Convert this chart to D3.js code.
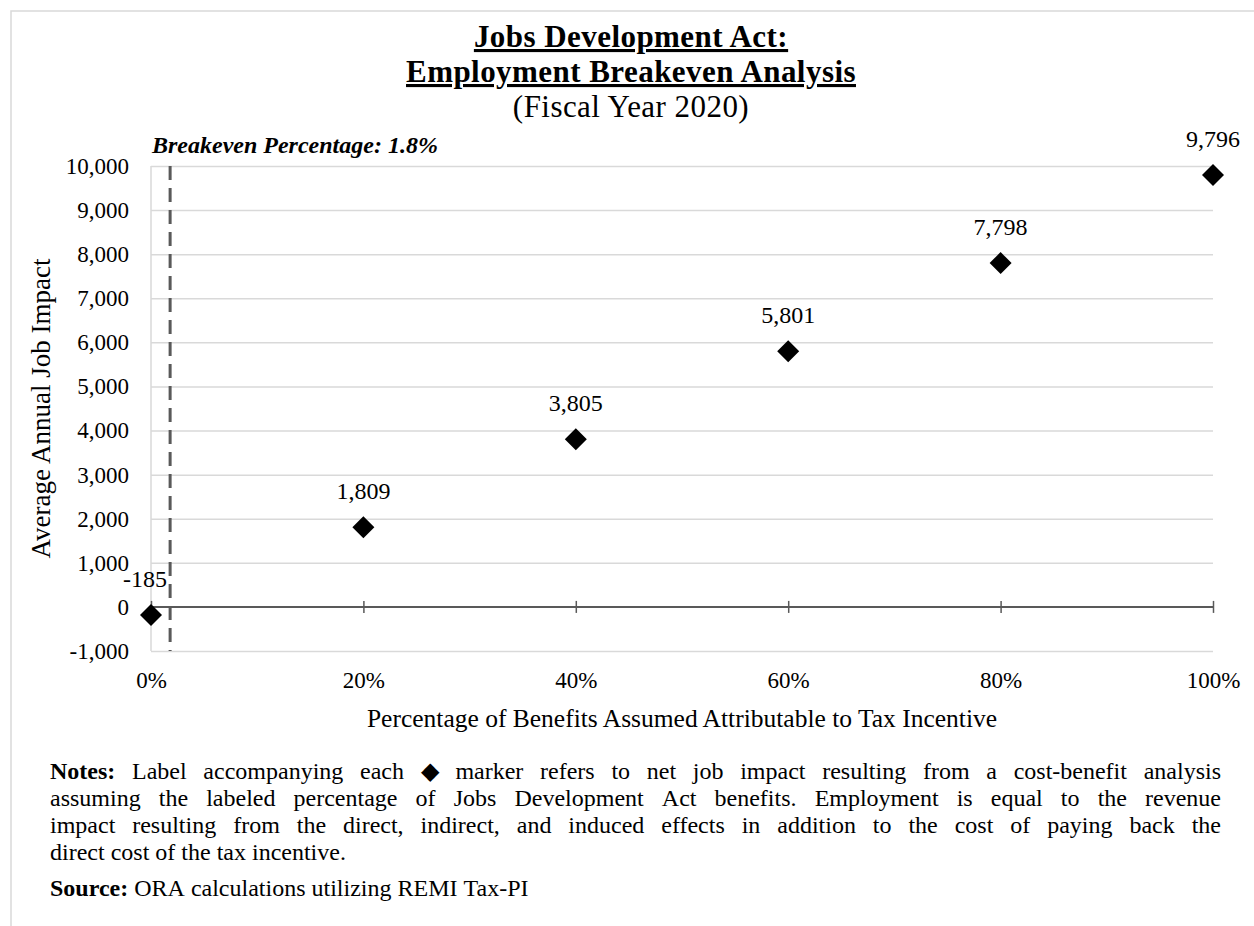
<!DOCTYPE html>
<html>
<head>
<meta charset="utf-8">
<script src="https://cdn.jsdelivr.net/npm/d3@7"></script>
<style>
  html, body { margin: 0; padding: 0; background: #ffffff; }
  svg { display: block; }
  text { font-family: "Liberation Serif", "Times New Roman", Times, serif; fill: #000; }
</style>
</head>
<body>
<svg id="chart" width="1254" height="926"></svg>
<script>
// ---- Data -------------------------------------------------------------
const benefitShares = [0, 0.2, 0.4, 0.6, 0.8, 1.0];
const jobImpact = [-185, 1809, 3805, 5801, 7798, 9796];
const breakevenShare = 0.018;

const yTickValues = [-1000, 0, 1000, 2000, 3000, 4000, 5000, 6000, 7000, 8000, 9000, 10000];
const xTickValues = [0, 0.2, 0.4, 0.6, 0.8, 1.0];

// ---- Text -------------------------------------------------------------
const titleLines = ["Jobs Development Act:", "Employment Breakeven Analysis"];
const subtitle = "(Fiscal Year 2020)";
const breakevenLabel = "Breakeven Percentage: 1.8%";
const yAxisTitle = "Average Annual Job Impact";
const xAxisTitle = "Percentage of Benefits Assumed Attributable to Tax Incentive";
const notesLead = "Notes:";
const notesLines = [
  "Label accompanying each \u25C6 marker refers to net job impact resulting from a cost-benefit analysis",
  "assuming the labeled percentage of Jobs Development Act benefits. Employment is equal to the revenue",
  "impact resulting from the direct, indirect, and induced effects in addition to the cost of paying back the",
  "direct cost of the tax incentive."
];
const sourceLead = "Source:";
const sourceBody = "ORA calculations utilizing REMI Tax-PI";

// ---- Layout -----------------------------------------------------------
const W = 1254, H = 926;
const plot = { left: 151, right: 1213, top: 166, bottom: 651 };
const gridColor = "#d9d9d9";
const axisColor = "#595959";

const svg = d3.select("#chart");
svg.append("rect").attr("width", W).attr("height", H).attr("fill", "#fff");

// chart frame (left and top edges)
svg.append("path")
  .attr("d", `M11,${H} V11 H${W}`)
  .attr("fill", "none")
  .attr("stroke", gridColor)
  .attr("stroke-width", 1.5);

const x = d3.scaleLinear().domain([0, 1]).range([plot.left, plot.right]);
const y = d3.scaleLinear().domain([-1000, 10000]).range([plot.bottom, plot.top]);

const fmt = d3.formatLocale({ decimal: ".", thousands: ",", grouping: [3], currency: ["$", ""], minus: "-" });
const numFmt = fmt.format(",");
const pctFmt = fmt.format(".0%");

// horizontal gridlines
const grid = svg.append("g")
  .attr("transform", `translate(${plot.left},0)`)
  .call(d3.axisLeft(y)
    .tickValues(yTickValues.filter(v => v !== 0))
    .tickSize(-(plot.right - plot.left))
    .tickFormat(""));
grid.select(".domain").remove();
grid.selectAll(".tick line").attr("stroke", gridColor).attr("stroke-width", 1.5);

// vertical axis line
svg.append("line")
  .attr("x1", plot.left).attr("x2", plot.left)
  .attr("y1", plot.top).attr("y2", plot.bottom)
  .attr("stroke", gridColor).attr("stroke-width", 1.5);

// y tick labels
const yAxis = svg.append("g")
  .attr("transform", `translate(${plot.left},0)`)
  .call(d3.axisLeft(y).tickValues(yTickValues).tickFormat(numFmt).tickSize(0).tickPadding(22));
yAxis.select(".domain").remove();
yAxis.selectAll("text")
  .attr("font-size", 23)
  .attr("font-family", null)
  .attr("fill", "#000");

// zero line with crossing tick marks
const zeroAxis = svg.append("g")
  .attr("transform", `translate(0,${y(0)})`)
  .call(d3.axisBottom(x).tickValues(xTickValues).tickFormat("").tickSize(6));
zeroAxis.select(".domain")
  .attr("d", `M${plot.left},0H${plot.right}`)
  .attr("stroke", axisColor).attr("stroke-width", 2);
zeroAxis.selectAll(".tick line")
  .attr("y1", -6).attr("y2", 6)
  .attr("stroke", axisColor).attr("stroke-width", 1.5);

// x tick labels along the bottom of the plot
const xAxis = svg.append("g")
  .attr("transform", `translate(0,${plot.bottom})`)
  .call(d3.axisBottom(x).tickValues(xTickValues).tickFormat(pctFmt).tickSize(0).tickPadding(21));
xAxis.select(".domain").remove();
xAxis.selectAll("text")
  .attr("font-size", 23)
  .attr("font-family", null)
  .attr("fill", "#000");

// breakeven marker line
svg.append("line")
  .attr("x1", x(breakevenShare)).attr("x2", x(breakevenShare))
  .attr("y1", plot.top).attr("y2", plot.bottom)
  .attr("stroke", axisColor)
  .attr("stroke-width", 3)
  .attr("stroke-dasharray", "14,8");

svg.append("text")
  .attr("x", plot.left + 1).attr("y", 153)
  .attr("font-size", 24)
  .attr("font-weight", "bold")
  .attr("font-style", "italic")
  .text(breakevenLabel);

// points and their value labels
const points = benefitShares.map((s, i) => ({ share: s, value: jobImpact[i] }));
const diamond = d3.symbol().type(d3.symbolSquare).size(242);

svg.append("g").selectAll("path")
  .data(points)
  .join("path")
  .attr("d", diamond)
  .attr("transform", d => `translate(${x(d.share)},${y(d.value)}) rotate(45)`)
  .attr("fill", "#000");

svg.append("g").selectAll("text")
  .data(points)
  .join("text")
  .attr("x", d => x(d.share) + (d.value < 0 ? -6 : 0))
  .attr("y", d => y(d.value) - 28)
  .attr("text-anchor", "middle")
  .attr("font-size", 24)
  .text(d => numFmt(d.value));

// axis titles
svg.append("text")
  .attr("transform", `translate(50,${(plot.top + plot.bottom) / 2}) rotate(-90)`)
  .attr("text-anchor", "middle")
  .attr("font-size", 27)
  .text(yAxisTitle);

svg.append("text")
  .attr("x", (plot.left + plot.right) / 2).attr("y", 727)
  .attr("text-anchor", "middle")
  .attr("font-size", 25.5)
  .text(xAxisTitle);

// title block
const titleX = 631;
const titleSize = 31;
svg.append("g").selectAll("text")
  .data(titleLines)
  .join("text")
  .attr("x", titleX)
  .attr("y", (d, i) => 47 + i * 35)
  .attr("text-anchor", "middle")
  .attr("font-size", titleSize)
  .attr("letter-spacing", 0.45)
  .attr("font-weight", "bold")
  .style("text-decoration", "underline")
  .text(d => d);

svg.append("text")
  .attr("x", titleX).attr("y", 117)
  .attr("text-anchor", "middle")
  .attr("font-size", titleSize)
  .attr("letter-spacing", 0.45)
  .text(subtitle);

// notes paragraph, justified between two margins
const noteSize = 24;
const noteLeft = 50, noteRight = 1221;
const noteTop = 779, noteStep = 27;

function measure(str, bold) {
  const t = svg.append("text")
    .attr("font-size", noteSize)
    .attr("font-weight", bold ? "bold" : null)
    .text(str);
  const w = t.node().getComputedTextLength();
  t.remove();
  return w;
}
const spaceW = measure("a a", false) - measure("aa", false);

function drawLine(tokens, yPos, justify) {
  const widths = tokens.map(t => measure(t.text, t.bold));
  const total = d3.sum(widths);
  const gap = justify && tokens.length > 1
    ? (noteRight - noteLeft - total) / (tokens.length - 1)
    : spaceW;
  let cx = noteLeft;
  tokens.forEach((t, i) => {
    svg.append("text")
      .attr("x", cx).attr("y", yPos)
      .attr("font-size", noteSize)
      .attr("font-weight", t.bold ? "bold" : null)
      .text(t.text);
    cx += widths[i] + gap;
  });
}

notesLines.forEach((line, i) => {
  let tokens = line.split(" ").map(w => ({ text: w, bold: false }));
  if (i === 0) tokens = [{ text: notesLead, bold: true }].concat(tokens);
  drawLine(tokens, noteTop + i * noteStep, i < notesLines.length - 1);
});

const sourceTokens = [{ text: sourceLead, bold: true }]
  .concat(sourceBody.split(" ").map(w => ({ text: w, bold: false })));
drawLine(sourceTokens, 896, false);
</script>
</body>
</html>
